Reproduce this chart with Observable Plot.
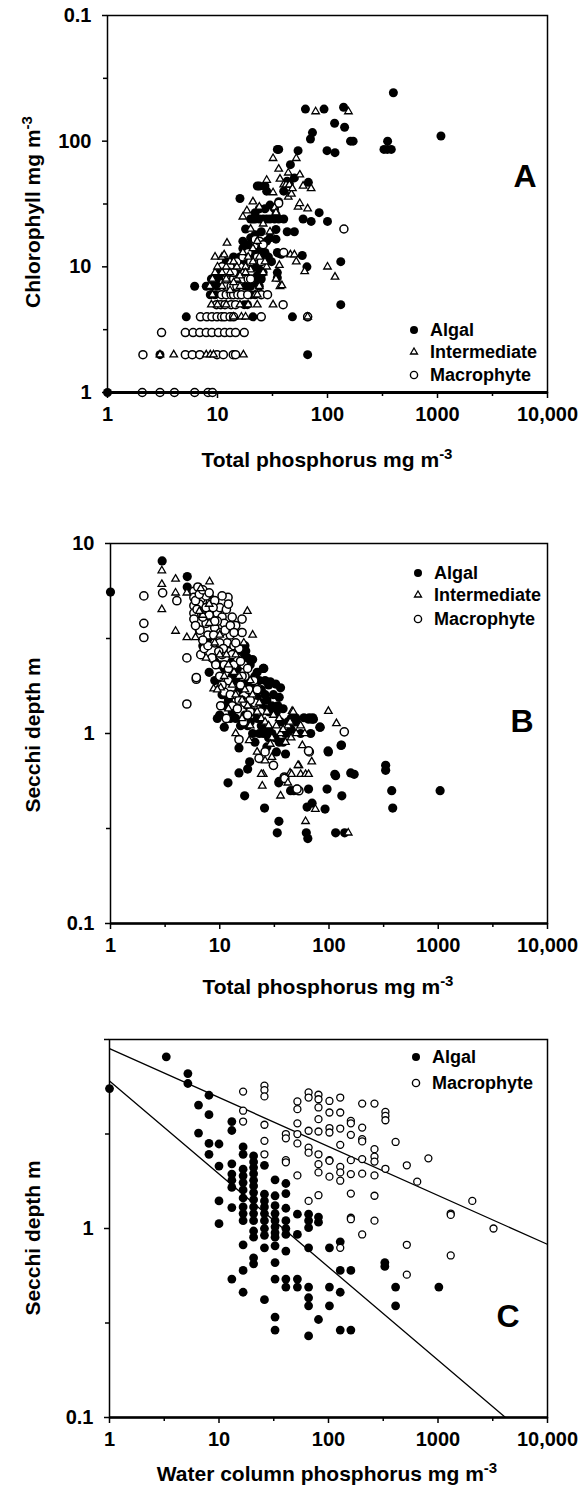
<!DOCTYPE html>
<html><head><meta charset="utf-8">
<script src="https://cdn.jsdelivr.net/npm/d3@7"></script>
<script src="https://cdn.jsdelivr.net/npm/@observablehq/plot@0.6"></script>
<style>
body{margin:0;background:#fff;}
#chart{position:relative;width:582px;height:1492px;background:#fff;}
#chart svg{position:absolute;left:0;}
</style></head><body><div id="chart"></div>
<script>
const FONT = "'Liberation Sans', Arial, Helvetica, sans-serif";

// ---------- tick values / labels ----------
const xMajor = [1, 10, 100, 1000, 10000];
const xMajorLabels = ["1", "10", "100", "1000", "10,000"];
const xMinor = [3.162, 31.62, 316.2, 3162];
const yMajorA = [1, 10, 100, 1000];
const yLabelsA = ["1", "10", "100", "0.1"];
const yMinorA = [3.162, 31.62, 316.2];
const yMajorB = [0.1, 1, 10];
const yLabelsB = ["0.1", "1", "10"];
const yMajorC = [0.1, 1, 10];
const yLabelsC = ["0.1", "1", ""];
const yMinorBC = [0.3162, 3.162];

// ---------- Panel A: total phosphorus vs chlorophyll ----------
const algalA = [[1,1],[3,2],[66,2],[5.2,4],[48,4],[66,4],[132,5],[17.5,5],[18.7,5],[21,4],
[8.6,6],[9.5,6],[20,6],[22,6],[6.2,7],[7.9,7],[8.8,7],[18,7],[20,7],[22,7.5],[24,7],
[8.8,8],[9.8,8],[19,8],[21,8],[23,8.5],[25,8],[26,9],
[10.5,9],[12,10],[13,11],[14,12],[15,10],[16,12],[17,14],[18,11],[19,15],[20,13],[22,10],[24,9.5],[26,12],[12,11],[11,10],
[10,7],[11,8.5],[13,7],[14,6.5],[15,8],[16,9],[17,10.5],[19,10],[21,12.5],[23,13],[25,14],[27,13],[29,12],[31,11],
[17,16],[18,20],[20,17],[22,18],[16,35],
[20,24],[21,24],[22,24],[24,24],[26,24],[28,24],[30,24],[33,24],[36,24],[40,24],
[22,27],[24,29],[27,29],[30,31],[34,26],[36,33],[33,29],
[23,44],[24,44],[27,44],[28,40],[35,86],[36,86],[46,65],[50,51],[43,48],[54,84],[60,24],[71,23],[67,47],[84,27],[100,23],[40,40],[45,46],
[34,19.8],[34,16.6],[43,19],[50,19],[28,16],[30,17],[25,19],
[35,13],[38,12.6],[36,12.8],[59,12.3],[65,10],[132,11],[35,9],[35,8.2],
[63,180],[93,180],[140,186],[116,139],[143,129],[73,117],[70,104],[162,100],[171,100],[99,84],[117,81],[352,100],[326,86],[350,86],[380,86],[397,243],[1075,110]];
const interA = [[4,2],[7.9,2],[8.6,2],[9.2,2],[17.2,2],[3,2],
[8.8,5],[10,5],[12,5],[16,5],[19,5],[23,5],[32,5],[14,4],[16.5,4],[18,4],
[22,6],[9,6],[23,6],[8.5,7],[11,7],[16,7],[24,7],[37,7],[9,8],[12,8],[15,8],[34,8],
[9.5,9],[11,9],[13,9],[17,9],[20,9.5],[26,9],[10,10],[12,10],[15,10],[18,10],[21,11],[28,10],
[9.5,12],[11,12],[13,11],[12.2,15.5],[11.5,12.5],
[13,6.5],[14,7.5],[16,8.5],[18,9],[19,12],[21,14],[24,12],[27,11],[14,11],[17,13],
[18.5,28],[17,25],[21,33],[28,49],[32,39],[32,73],[52,73],[44,56],[56,54],[71,42],[40,45],[42,45],[45,45],[54,30],[56,32],[44,36],[47,38],[66,29],[30,19],[36.5,10.3],[38.5,7.1],[46,12.5],[50,12.5],[52,11],[62,9.2],[100,10],[117,8.3],[78,172],[155,172],[33,29.5],[34,27],[66,4],[36,60],[24,30],[26,22],[20,20],[23,16],[37,50],[48,42],[60,44]];
const macroA = [[2.07,1],[3,1],[4.06,1],[6.2,1],[8.2,1],[9,1],
[2.1,2],[5.1,2],[5.9,2],[6.9,2],[9.9,2],[11.3,2],[13.9,2],[14.6,2],
[3.1,3],[5.1,3],[6,3],[6.9,3],[7.9,3],[8.9,3],[10.2,3],[11.6,3],[13,3],[14.6,3],[17.5,3],
[7,4],[8,4],[8.9,4],[9.9,4],[10.9,4],[11.6,4],[13,4],[14,4],[25,4],[66,4],
[9.8,5],[10.7,5],[11.7,5],[13.3,5],[14.6,5],[39.5,5],
[10.9,6],[12,6],[13.3,6],[14,6],[15.3,6],[16.5,6],[18.8,6],[25,6],[28.5,6],
[12,7],[13.3,7],[15,7],[12,8],[14,8],[17,8],[19,8],[11,10],[13,10],[18,10],[20,11],[141,20],[36,32],[22,16.5],[24,16],[26,15],[40,13],[14,9],[16,10],[20,8],
[15,11],[17,12],[12,9],[19,13],[23,12],[25,11]];

// ---------- Panel B: total phosphorus vs Secchi depth ----------
const algalB = [[1,5.55],[2.97,8.1],[5.04,6.7],[5.04,5.9],[8.1,5.2],
[17.3,2.72],[20,2.45],[25,2.2],[18,2.5],[16,2.6],
[11,1.08],[29,1.87],[32.5,1.82],[36,1.74],[26,1.6],[35,1.55],
[49.5,1.21],[59,1.21],[66,1.21],[71,1.21],[83,1.08],[68,1.0],
[98.7,0.80],[130,0.87],[15,0.84],[18.8,0.71],[18,0.65],[15,0.62],[11.9,0.55],[16.9,0.47],[25.7,0.405],[34.8,0.345],[33.6,0.30],[31,0.68],[35,0.56],[44.5,0.50],[47.6,0.50],[51,0.51],[65,0.51],[70,0.43],[63,0.41],[62,0.30],[64,0.28],[92,0.40],[96,0.51],[115,0.60],[115,0.30],[139,0.30],[131,0.47],[158,0.62],[170,0.61],[330,0.68],[330,0.64],[375,0.50],[383,0.405],[1040,0.50],[40,0.78],[34.7,0.55],[82.5,1.08],[98,0.81],[129,0.865],[113,0.61],
[65,1.19],[70,1.19],[72,1.19],[49.4,1.19],
[9,2.4],[10,2.3],[8.5,2.5],[11,2.2],[13,2.0],[14,1.9],[15,1.7],[16,1.5],[18,1.4],[20,1.3],[22,1.2],[24,1.1],[25,1.0],[28,1.05],[30,1.0],[32,0.95],[35,0.9],[38,0.9],[40,1.0],[45,1.05],[22,1.55],[24,1.45],[26,1.35],[28,1.3],[20,1.7],[19,1.8],[13,1.3],[14,1.2],[12,1.5],[17,1.25],[25.3,2.2],[21,2.0],[23,1.9],[30,1.4],[33,1.3],[38,1.35],[42,1.15],[18,1.1],[20,1.0],[27,0.85],[21,0.9],[9.5,1.2],[10,1.25],
[13,2.4],[14.5,2.2],[15.5,2.35],[17,2.9],[19,2.3],[22,2.1],[26,1.9],[28,1.8],[31,1.6],[27,1.5],[24,1.7],[18,1.9],[16.5,1.8],[34,1.4],[36,1.15],[45,1.2],[50,1.15],[55,1.0],[33,0.8],[28,0.95],[23,1.0],[19,1.15],[15.5,1.1],[12.5,1.2],[11,1.4],[10.5,1.6],[9,1.9],[8,2.1],[7,2.9],[6.5,3.5],[8,3.0]];
const interB = [[2.95,7.2],[2.95,6.1],[2.95,4.5],[3.94,6.5],[3.94,5.5],[3.94,3.46],[5,5.5],[5,3.2],[8.07,6.3],[6.7,5.8],[17.9,4.4],[20,3.3],[16.6,3.0],[8.8,1.72],[10.2,1.74],[46,1.31],[98.7,1.31],[117,1.13],[18.6,0.92],[25,0.61],[24,0.61],[24.5,0.53],[36,0.47],[44,0.62],[42,0.55],[53,0.68],[55,0.61],[61,0.61],[65,0.61],[69.5,0.71],[75,0.40],[61,0.345],[150,0.30],[47,1.3],[57,0.865],[52,0.68],[45.4,0.61],
[7,4.2],[8,3.8],[9,3.0],[10,3.3],[11,2.0],[12,2.3],[13,1.8],[14,1.6],[15,2.0],[16,1.5],[18,1.4],[20,1.6],[22,1.3],[24,1.2],[26,1.15],[28,1.1],[30,0.95],[33,1.1],[36,1.0],[40,0.9],[42,1.1],[45,0.95],[50,1.0],[22,0.8],[26,0.72],[30,0.75],[12,1.35],[9.5,1.7],[7.5,2.5],[6,3.2],[14,2.6],[16,1.2],[35,1.2],
[10,2.6],[11.5,2.6],[13.5,2.1],[17,1.7],[19,1.9],[23,1.45],[27,1.3],[31,1.25],[38,1.05],[44,1.15],[55,1.1],[60,1.0],[29,0.88],[19,1.1],[14,1.0],[8,4.8],[6.5,4.4]];
const macroB = [[2.02,5.3],[2.02,3.8],[2.02,3.2],[3.0,5.5],[4.05,5.0],[5.0,2.5],[5.0,1.43],[6.1,1.93],[6.1,1.97],[11.9,5.2],[15,0.93],[22.9,0.74],[26,0.80],[66,0.80],[138,1.02],[31,0.68],[39,0.59],[53,0.50],[65,0.81],[51,0.51],[39.4,0.58],
[5.8,5.6],[5.8,5.2],[5.8,4.7],[5.8,4.3],[5.8,4.0],[6.3,5.9],[6.7,5.1],[7,4.5],[6.5,4.8],[7.5,3.8],[7,4.1],[6.6,3.5],[6.7,2.6],[7.2,2.8],[7.8,3.3],[8.2,4.9],[8.5,3.9],[9,3.6],[9.5,4.3],[10,4.6],[10.5,4.1],[10.2,3.4],[11,3.8],[11.5,4.5],[11.7,3.0],[12,2.7],[12.5,3.3],[13,4.1],[13.5,2.9],[8.5,2.5],[9.2,2.3],[10,2.0],[10.5,2.6],[11,2.3],[13.5,2.3],[14.5,2.5],[15,2.8],[16.6,2.3],[17,2.0],[16,3.4],[18,2.2],[20.5,1.9],[15.5,1.8],[14,1.6],[12,1.9],[11,1.65],[10.2,1.4],[11.5,1.2],[13,1.4],[15,1.5],[17,1.45],[19,1.3],[20,1.6],[23.6,1.3],[9,3.0],[8,4.2],[7.5,5.3],[6.2,4.5],[9,5.0],[10.5,5.3],[12,4.8],[14,3.7],[16,4.0],
[6,5.0],[6.5,5.4],[7,5.7],[7.5,4.6],[8,5.5],[8.7,4.6],[9.5,3.9],[10,3.0],[10.8,2.8],[11.2,3.5],[12.5,3.7],[13.5,3.4],[14,3.0],[15.5,2.4],[9.8,2.7],[8.8,3.3],[7.8,2.9],[12,2.2],[13,2.6],[16,2.0],[18.5,1.7],[21,1.45],[22,1.7],[19,1.5],[10.5,1.8],[12.5,1.6],[14.5,1.35],[16.5,1.15],[18,1.25],[9,3.9],[7,3.1],[6,3.7]];

// ---------- Panel C: water column phosphorus vs Secchi depth ----------
const algalC = [[1,5.5],[3.3,8.1],[5.2,6.6],[5.2,5.85],[6.5,4.5],[8.1,5.07],[8.1,4.0],[6.5,3.2],[8.1,2.82],[8.1,2.47],
[10,2.8],[10,2.14],[10,1.4],[10,1.06],
[13.1,3.68],[13.1,3.3],[13.1,2.2],[13.1,1.94],[13.1,1.8],[13.1,1.65],[13.1,1.29],[13.1,0.54],
[16.6,2.7],[16.6,2.47],[16.6,2.06],[16.6,1.9],[16.6,1.75],[16.6,1.6],[16.6,1.45],[16.6,1.3],[16.6,1.2],[16.6,1.1],[16.6,0.82],[16.6,0.60],[16.6,0.46],
[20.7,2.42],[20.7,2.25],[20.7,2.1],[20.7,1.95],[20.7,1.8],[20.7,1.68],[20.7,1.55],[20.7,1.42],[20.7,1.3],[20.7,1.2],[20.7,1.1],[20.7,0.97],[20.7,0.90],[20.7,0.70],[20.7,0.65],
[26,2.16],[26,1.52],[26,1.4],[26,1.3],[26,1.2],[26,1.1],[26,1.0],[26,0.92],[26,0.79],[26,0.42],
[32.5,1.81],[32.5,1.49],[32.5,1.32],[32.5,1.2],[32.5,1.1],[32.5,1.02],[32.5,0.95],[32.5,0.90],[32.5,0.81],[32.5,0.66],[32.5,0.54],[32.5,0.34],[32.5,0.29],
[40.8,1.73],[40.8,1.53],[40.8,1.28],[40.8,1.1],[40.8,1.0],[40.8,0.93],[40.8,0.76],[40.8,0.54],[40.8,0.49],
[52,1.19],[52,0.93],[52,0.54],[52,0.49],
[65.8,1.19],[65.8,1.1],[65.8,1.01],[65.8,0.79],[65.8,0.49],[65.8,0.43],[65.8,0.39],[65.8,0.27],
[81,1.15],[81,1.08],[81,0.33],[102,0.79],[102,0.49],[102,0.39],
[128,0.85],[128,0.60],[128,0.46],[128,0.29],[160,0.60],[160,0.29],
[327,0.66],[327,0.63],[410,0.49],[410,0.39],[1018,0.49]];
const macroC = [[16.6,5.3],[16.6,4.2],[16.6,3.68],[26,5.7],[26,5.4],[26,5.0],[26,3.54],[26,2.91],[26,2.47],
[40.8,3.16],[40.8,3.0],[40.8,2.3],[40.8,2.24],
[52,4.7],[52,4.28],[52,3.6],[52,3.16],[52,2.82],[52,1.91],
[65.8,5.25],[65.8,4.93],[65.8,3.29],[65.8,2.68],[65.8,2.52],[65.8,1.4],
[81,5.1],[81,4.83],[81,4.37],[81,3.79],[81,3.26],[81,2.47],[81,2.19],[81,1.98],[81,1.5],
[102,4.73],[102,4.11],[102,3.4],[102,3.22],[102,2.3],[102,2.28],[102,1.88],
[128,4.93],[128,4.11],[128,3.38],[128,2.77],[128,2.12],[128,1.98],[128,1.79],[128,0.79],
[160,3.71],[160,3.6],[160,3.13],[160,2.3],[160,1.94],[160,1.53],[160,1.14],[160,1.12],
[203,4.58],[203,3.42],[203,2.97],[203,2.89],[203,2.33],[203,1.95],[203,0.93],
[263,4.58],[263,2.63],[263,2.4],[263,2.26],[263,1.91],[263,1.49],[263,1.1],
[331,4.14],[331,3.94],[331,3.74],[331,2.07],
[410,2.87],[519,2.16],[519,0.82],[519,0.57],[646,1.77],[817,2.35],[1307,1.2],[1307,1.18],[1307,0.72],[2057,1.4],[3214,1.0]];
// fitted log-log regression lines: log10(SD) = intercept + slope*log10(P)
const fitNames = ["Algal", "Macrophyte"];
const fitIntercept = [0.781, 0.952];
const fitSlope = [-0.4925, -0.259];
const fitRange = [1, 10000];

// ---------- helpers ----------
const rows = arr => arr.map(([x, y]) => ({x, y}));
const xLabelMap = new Map(xMajor.map((d, i) => [d, xMajorLabels[i]]));
const mapOf = (v, l) => new Map(v.map((d, i) => [d, l[i]]));
const style = {fontFamily: FONT, fontWeight: "bold", fontSize: "20px", color: "black", background: "white", overflow: "visible"};

function axes(yMajor, yLabels, yMinor) {
  const ym = mapOf(yMajor, yLabels);
  return [
    Plot.axisX({ticks: xMajor, tickFormat: d => xLabelMap.get(d), tickSize: 6, tickPadding: 8, strokeWidth: 1.5, label: null}),
    Plot.axisX({ticks: xMinor, tickFormat: () => "", tickSize: 4, strokeWidth: 1.5, label: null}),
    Plot.axisY({ticks: yMajor, tickFormat: d => ym.get(d), tickSize: 5, tickPadding: 11, strokeWidth: 1.5, label: null}),
    Plot.axisY({ticks: yMinor, tickFormat: () => "", tickSize: 4, strokeWidth: 1.5, label: null})
  ];
}

function decorate(svg, o) {
  const s = d3.select(svg).style("font-family", FONT).style("font-weight", "bold");
  const xt = s.append("text").attr("x", o.xt[0]).attr("y", o.xt[1]).attr("text-anchor", "middle")
    .attr("font-size", 21).attr("fill", "black");
  xt.append("tspan").text(o.xTitle);
  if (o.xSup) xt.append("tspan").attr("dy", "-0.55em").attr("font-size", 15).text(o.xSup);
  const yt = s.append("text").attr("transform", `translate(${o.yt[0]},${o.yt[1]}) rotate(-90)`)
    .attr("text-anchor", "middle").attr("font-size", 21).attr("fill", "black");
  yt.append("tspan").text(o.yTitle);
  if (o.ySup) yt.append("tspan").attr("dy", "-0.55em").attr("font-size", 15).text(o.ySup);
  s.append("text").attr("x", o.letter[1]).attr("y", o.letter[2]).attr("text-anchor", "middle")
    .attr("font-size", 32).attr("fill", "black").text(o.letter[0]);
  o.legend.forEach((e, i) => {
    const y = o.legY[i];
    const g = s.append("g");
    if (e.kind === "algal") g.append("circle").attr("cx", o.legX).attr("cy", y).attr("r", 4).attr("fill", "black");
    else if (e.kind === "macro") g.append("circle").attr("cx", o.legX).attr("cy", y).attr("r", 3.6).attr("fill", "white").attr("stroke", "black").attr("stroke-width", 1.4);
    else g.append("path").attr("transform", `translate(${o.legX},${y})`).attr("d", d3.symbol(d3.symbolTriangle, Math.PI * 2.6 * 2.6)())
      .attr("fill", "white").attr("stroke", "black").attr("stroke-width", 1.3);
    g.append("text").attr("x", o.legX + 16).attr("y", y).attr("dy", "0.36em").attr("text-anchor", "start")
      .attr("font-size", 18).attr("fill", "black").text(e.label);
  });
}

const chart = document.getElementById("chart");

// ----- Panel A -----
const svgA = Plot.plot({
  width: 582, height: 480, marginTop: 15, marginBottom: 88, marginLeft: 107, marginRight: 35,
  x: {type: "log", domain: [1, 10000], label: null},
  y: {type: "log", domain: [1, 1000], label: null},
  style,
  marks: [
    ...axes(yMajorA, yLabelsA, yMinorA),
    Plot.dot(rows(algalA), {x: "x", y: "y", r: 4.5, fill: "black"}),
    Plot.dot(rows(macroA), {x: "x", y: "y", r: 4, fill: "white", stroke: "black", strokeWidth: 1.5}),
    Plot.dot(rows(interA), {x: "x", y: "y", symbol: "triangle", r: 2.8, fill: "white", stroke: "black", strokeWidth: 1.3}),
    Plot.frame({strokeWidth: 1.5}),
    Plot.ruleY([1], {strokeWidth: 3})
  ]
});
svgA.style.top = "0px";
chart.appendChild(svgA);
decorate(svgA, {xTitle: "Total phosphorus mg m", xSup: "-3", xt: [327, 467],
  yTitle: "Chlorophyll mg m", ySup: "-3", yt: [40, 212], letter: ["A", 525, 187],
  legX: 414, legY: [330, 352, 375],
  legend: [{kind: "algal", label: "Algal"}, {kind: "inter", label: "Intermediate"}, {kind: "macro", label: "Macrophyte"}]});

// ----- Panel B -----
const svgB = Plot.plot({
  width: 582, height: 525, marginTop: 63, marginBottom: 82, marginLeft: 110, marginRight: 35,
  x: {type: "log", domain: [1, 10000], label: null},
  y: {type: "log", domain: [0.1, 10], label: null},
  style,
  marks: [
    ...axes(yMajorB, yLabelsB, yMinorBC),
    Plot.dot(rows(algalB), {x: "x", y: "y", r: 4.6, fill: "black"}),
    Plot.dot(rows(macroB), {x: "x", y: "y", r: 4.1, fill: "white", stroke: "black", strokeWidth: 1.5}),
    Plot.dot(rows(interB), {x: "x", y: "y", symbol: "triangle", r: 2.8, fill: "white", stroke: "black", strokeWidth: 1.3}),
    Plot.frame({strokeWidth: 1.5}),
    Plot.ruleY([0.1], {strokeWidth: 2.5})
  ]
});
svgB.style.top = "480px";
chart.appendChild(svgB);
decorate(svgB, {xTitle: "Total phosphorus mg m", xSup: "-3", xt: [328, 514],
  yTitle: "Secchi depth m", ySup: null, yt: [40, 255], letter: ["B", 522, 252],
  legX: 418, legY: [93, 115, 139],
  legend: [{kind: "algal", label: "Algal"}, {kind: "inter", label: "Intermediate"}, {kind: "macro", label: "Macrophyte"}]});

// ----- Panel C -----
const fitRows = fitNames.flatMap((name, i) => fitRange.map(p => ({name, x: p, y: Math.pow(10, fitIntercept[i] + fitSlope[i] * Math.log10(p))})));
const svgC = Plot.plot({
  width: 582, height: 487, marginTop: 34, marginBottom: 75, marginLeft: 109, marginRight: 35,
  x: {type: "log", domain: [1, 10000], label: null},
  y: {type: "log", domain: [0.1, 10], label: null},
  style,
  marks: [
    ...axes(yMajorC, yLabelsC, yMinorBC),
    Plot.line(fitRows, {x: "x", y: "y", z: "name", stroke: "black", strokeWidth: 1.3, clip: true}),
    Plot.dot(rows(algalC), {x: "x", y: "y", r: 4.4, fill: "black"}),
    Plot.dot(rows(macroC), {x: "x", y: "y", r: 3.5, fill: "white", stroke: "black", strokeWidth: 1.3}),
    Plot.frame({strokeWidth: 1.5}),
    Plot.ruleY([0.1], {strokeWidth: 2.5})
  ]
});
svgC.style.top = "1005px";
chart.appendChild(svgC);
decorate(svgC, {xTitle: "Water column phosphorus mg m", xSup: "-3", xt: [327, 476],
  yTitle: "Secchi depth m", ySup: null, yt: [40, 233], letter: ["C", 508, 322],
  legX: 416, legY: [52, 78],
  legend: [{kind: "algal", label: "Algal"}, {kind: "macro", label: "Macrophyte"}]});
</script></body></html>
